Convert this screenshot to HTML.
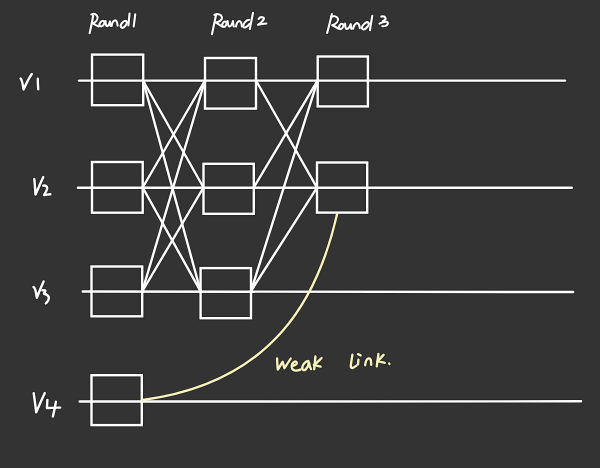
<!DOCTYPE html>
<html><head><meta charset="utf-8">
<style>
html,body{margin:0;padding:0;background:#333333;width:600px;height:468px;overflow:hidden;font-family:"Liberation Sans",sans-serif;}
svg{display:block;position:absolute;left:0;top:0;}
</style></head>
<body>
<svg width="600" height="468" viewBox="0 0 600 468">
<rect x="0" y="0" width="600" height="468" fill="#333333"/>
<defs>
<g id="L">
<!-- horizontal lines -->
<line x1="79" y1="80.6" x2="565.1" y2="80.6"/>
<line x1="77.9" y1="187.7" x2="571.8" y2="187.8"/>
<line x1="82.7" y1="291.5" x2="573.2" y2="292"/>
<line x1="79.6" y1="401.5" x2="581.1" y2="401.3"/>
<!-- boxes -->
<rect x="92" y="54.6" width="51.2" height="50.6"/>
<rect x="205" y="58" width="51" height="50.6"/>
<rect x="317.7" y="56.5" width="50.2" height="49.9"/>
<rect x="92" y="162" width="50.7" height="50.7"/>
<rect x="203.5" y="163.8" width="50.3" height="50"/>
<rect x="317" y="162.5" width="50.2" height="50.1"/>
<rect x="91.5" y="266.5" width="50.7" height="49.8"/>
<rect x="200.6" y="268.1" width="50.4" height="50.1"/>
<rect x="91.5" y="375.2" width="50.3" height="49.9"/>
</g>
<g id="D">
<line x1="143" y1="80.5" x2="203.5" y2="187.5"/>
<line x1="143" y1="80.5" x2="200.6" y2="291.3"/>
<line x1="142.7" y1="187.5" x2="205" y2="80.5"/>
<line x1="142.7" y1="187.5" x2="200.6" y2="291.3"/>
<line x1="142.2" y1="291.5" x2="205" y2="80.5"/>
<line x1="142.2" y1="291.5" x2="203.5" y2="187.5"/>
<line x1="256" y1="80.5" x2="317" y2="187.6"/>
<line x1="253.8" y1="187.3" x2="317.7" y2="80.4"/>
<line x1="251" y1="291" x2="317.7" y2="80.4"/>
<line x1="251" y1="291" x2="317" y2="187.6"/>
</g>
<path id="C" d="M143,400 C274.4,382.5 318.4,296.3 337.1,214"/>
<g id="T">
<!-- Round1 -->
<path d="M93.2,15.5 C92.3,21 90.8,28 89.6,33.2"/>
<path d="M91.3,14.5 C93.5,13 96.5,13.8 97.6,17 C98,19.8 95.5,22.3 92.7,23.3 C94.8,24.5 96.8,25.8 98.8,26.5"/>
<ellipse cx="102" cy="23.6" rx="2.0" ry="3.1" transform="rotate(38 102 23.6)"/>
<path d="M105.6,21 C105.5,23.5 105.8,26.2 107,26.1 C108.4,25.9 109.5,23.5 110,21.4 C110.1,23.5 110.2,25 110.5,26"/>
<path d="M111.6,26 C112,23.2 113.4,20.6 115.2,20.3 C116.8,20.3 117.3,22.6 117.6,25.6"/>
<ellipse cx="123.8" cy="24.3" rx="2.2" ry="4" transform="rotate(38 123.8 24.3)"/>
<path d="M129.5,13.6 C129.2,17.5 128.8,21.5 128.4,25.5"/>
<path d="M135.2,14.4 C134.8,18.5 134.2,22.5 133.7,26.4"/>
<!-- Round 2 -->
<path d="M215.9,15.5 C214.8,21 213.2,28 212,34.2"/>
<path d="M214.4,14.8 C217,13.5 221,14 222,17.3 C222.2,19.5 219.5,21.5 216,22.6 C218,24 220,25.5 222.3,26.6"/>
<ellipse cx="224.4" cy="24.2" rx="1.9" ry="2.8" transform="rotate(30 224.4 24.2)"/>
<path d="M227.6,21.1 C227.8,23.5 228,26.5 229.5,26.5 C231.5,26.3 232.5,23 233,21.1 C233.2,23.5 233.3,25.5 233.8,26.5"/>
<path d="M236,26.5 C236.5,24 237.5,21.5 239.2,21.1 C241,21 241.6,23.5 242,26.5"/>
<path d="M249.3,19.8 C246.5,19.8 243.2,23.2 243.3,26.4 C243.8,28.6 247,27.2 249.5,23.8"/>
<path d="M253,12.8 C252,18 250.8,24 249.8,29"/>
<path d="M258.6,19 C259.5,17.6 261.5,16.8 263.5,17.6 C265.2,18.8 262,22 258,24.8 C260.5,24.3 263.5,23.8 266.4,23.5"/>
<!-- Round 3 -->
<path d="M331.9,14 C330.5,20 328.8,27 327.1,33"/>
<path d="M331,16.8 C333,15.8 336.5,16 337.9,18.5 C338.8,20.8 336.5,23.6 332.2,25.3 C334.5,26.3 336.7,27.6 338.6,28.7"/>
<ellipse cx="341.2" cy="26.4" rx="1.9" ry="2.8" transform="rotate(35 341.2 26.4)"/>
<path d="M345.1,23.6 C345.2,26 345.4,29.2 346.8,29 C348.8,28.6 350.2,26 350.8,24.2 C350.8,26.3 351,28 351.4,28.8"/>
<path d="M353,28.7 C353.5,26.5 354.5,24 356.5,23.1 C358.5,22.8 359.5,25 359.8,28.2"/>
<ellipse cx="365.4" cy="25.8" rx="2.2" ry="4.3" transform="rotate(42 365.4 25.8)"/>
<path d="M372.3,15.7 C371.5,20.5 370.6,25.5 370,30.2"/>
<path d="M381.3,16.6 C383,16 385.3,16.5 385.6,18.3 C385.7,19.8 384.2,20.6 382.8,21.2"/>
<path d="M379.5,23.6 C381.5,22.5 384.5,21.5 386.8,21.8 C388.5,22.3 388.3,24.3 386.5,25.3 C385,26.2 383.2,26.4 382.2,26.2"/>
</g>
<g id="V"><!-- V1 -->
<path d="M20.6,78.5 C21.8,79.5 22.5,82 23.6,89.6 C26,84 29,78 31.8,74"/>
<path d="M37.8,78.8 C37.8,82 38,86 38.2,89.2"/>
<!-- V2 -->
<path d="M34.3,179 C34.8,184 35.2,190 35.5,194.6 C38,189 41,182 43.3,177.1"/>
<path d="M43.3,185.7 C45,185 47.3,186 47.2,188.4 C46.8,191 45,193.5 44.1,195 C46,194.8 48.5,194.5 50.4,194.3"/>
<!-- V3 -->
<path d="M33.5,287 C35,287.5 35.8,290 36.8,297.7 C39,292 41.5,286 43.6,281.4"/>
<path d="M42.4,290.3 C43.5,290.2 45.2,290.3 45.4,290.8 C45,292 44,293 43.9,293.7 C46,294 48.3,295.5 49,297.5 C48.8,300 47,302.5 45.8,303.4"/>
<!-- V4 -->
<path d="M33.7,393.1 C34.5,399 35.5,406 36.2,412.3 C39,406 42,399 44.8,393.1"/>
<path d="M47.4,400 C47.2,403 47,406 46.9,408 C51,407.8 56,407.7 60.2,407.6"/>
<path d="M55.9,401.7 C55,407 54,412 52.9,416.5"/>
</g>
<g id="W">
<!-- weak -->
<path d="M277.1,358.5 C277.2,362 277.4,366.5 277.8,369.6 C279.5,367 281.3,363.5 282.7,361.8 C283.3,364 283.8,366.5 284.4,368.2 C286.5,365 289,361 290.7,358.6"/>
<path d="M292.3,366 C294,365.6 296.2,365 296.8,363.4 C297.2,361.8 295.5,361.2 294.3,361.8 C292.5,362.8 291.5,365 291.8,367.5 C292.2,370 294.5,370.8 296.2,370.6 C297.8,370.4 299.3,370 300.3,369.6"/>
<path d="M308.3,361 C305.5,361.2 302.5,364.5 302.2,367.8 C302,370 304,370.8 305.6,369.5 C307.3,368 308.5,365.5 309,362.5 C309.3,365 309.8,367.5 311,369"/>
<path d="M315.4,356.5 C315,360.5 314.6,365 314.2,369.2"/>
<path d="M321.6,358 C319,360.5 316,363.5 313.8,365 C316,365.5 318.5,366 320.6,366.6"/>
<!-- link. -->
<path d="M352.4,354.8 C351.8,358.5 351,363 350.8,366.5 C351,368.8 353,368.4 356.4,365.6"/>
<path d="M358.4,359.6 L358,364.4"/>
<path d="M358,354.2 L360.6,355.4"/>
<path d="M365.2,365.2 C365.4,362.5 366.2,359.5 368.2,358.5 C370,358 370.8,359.5 371,361.5 C371.1,362.8 371.2,364 371.2,364.8"/>
<path d="M378.4,354 C378,358 377.2,362.5 376.8,366.4"/>
<path d="M383.6,354.8 C381.5,357 379.5,359.5 377.6,361.2 C380,361.8 382.5,362.3 384.8,362.8"/>
<path d="M389.2,363.6 L389.4,363.9"/>
</g>
</defs>
<g fill="none" stroke-linecap="round" stroke-linejoin="round">
<g stroke="#232323" opacity="0.7">
<use href="#L" stroke-width="4.6" stroke-linejoin="miter"/>
<use href="#D" stroke-width="4.2"/>
<use href="#C" stroke-width="4.2"/>
<use href="#T" stroke-width="4.0"/>
<use href="#V" stroke-width="4.4"/>
<use href="#W" stroke-width="4.2"/>
</g>
<use href="#L" stroke="#ffffff" stroke-width="2.4" stroke-linejoin="miter"/>
<use href="#D" stroke="#ffffff" stroke-width="2.4"/>
<use href="#C" stroke="#f7f4bd" stroke-width="2.4"/>
<use href="#T" stroke="#ffffff" stroke-width="2.1"/>
<use href="#V" stroke="#ffffff" stroke-width="2.4"/>
<use href="#W" stroke="#f7f4bd" stroke-width="2.4"/>
</g>
</svg>
</body></html>
